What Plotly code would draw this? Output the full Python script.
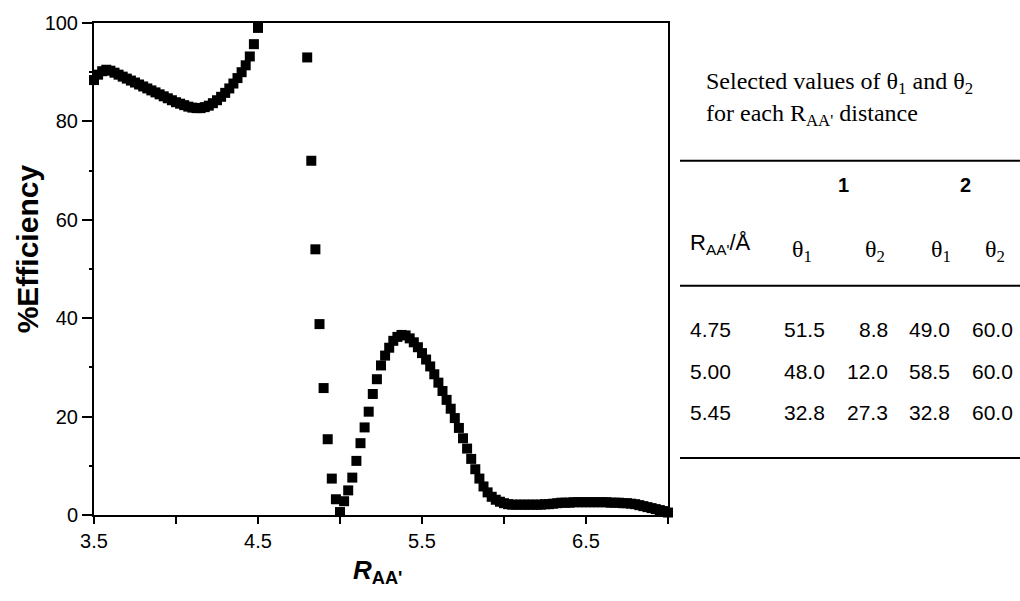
import plotly.graph_objects as go

# ---- data ----
x_left = [3.5, 3.525, 3.55, 3.575, 3.6, 3.625, 3.65, 3.675, 3.7, 3.725,
          3.75, 3.775, 3.8, 3.825, 3.85, 3.875, 3.9, 3.925, 3.95, 3.975,
          4.0, 4.025, 4.05, 4.075, 4.1, 4.125, 4.15, 4.175, 4.2, 4.225,
          4.25, 4.275, 4.3, 4.325, 4.35, 4.375, 4.4, 4.425, 4.45, 4.475, 4.5]
y_left = [88.4, 89.5, 90.2, 90.5, 90.3, 89.9, 89.5, 89.1, 88.7, 88.3,
          87.9, 87.5, 87.1, 86.7, 86.3, 85.9, 85.5, 85.1, 84.7, 84.3,
          83.9, 83.6, 83.3, 83.0, 82.8, 82.7, 82.7, 82.9, 83.2, 83.7,
          84.3, 85.0, 85.8, 86.7, 87.7, 88.8, 90.0, 91.4, 93.2, 95.7, 99.0]

x_right = [4.8, 4.825, 4.85, 4.875, 4.9, 4.925, 4.95, 4.975, 5.0,
           5.025, 5.05, 5.075, 5.1, 5.125, 5.15, 5.175, 5.2, 5.225, 5.25,
           5.275, 5.3, 5.325, 5.35, 5.375, 5.4, 5.425, 5.45, 5.475, 5.5,
           5.525, 5.55, 5.575, 5.6, 5.625, 5.65, 5.675, 5.7, 5.725, 5.75,
           5.775, 5.8, 5.825, 5.85, 5.875, 5.9, 5.925, 5.95, 5.975, 6.0,
           6.025, 6.05, 6.075, 6.1, 6.125, 6.15, 6.175, 6.2, 6.225, 6.25,
           6.275, 6.3, 6.325, 6.35, 6.375, 6.4, 6.425, 6.45, 6.475, 6.5,
           6.525, 6.55, 6.575, 6.6, 6.625, 6.65, 6.675, 6.7, 6.725, 6.75,
           6.775, 6.8, 6.825, 6.85, 6.875, 6.9, 6.925, 6.95, 6.975, 7.0]
y_right = [93.0, 72.0, 54.0, 38.8, 25.8, 15.4, 7.4, 3.2, 0.6,
           2.8, 5.0, 7.6, 11.0, 14.6, 17.8, 21.0, 24.6, 27.6, 30.4,
           32.4, 34.0, 35.4, 36.2, 36.6, 36.5, 35.9, 35.1, 34.1, 32.9,
           31.6, 30.2, 28.6, 26.9, 25.2, 23.4, 21.6, 19.7, 17.7, 15.6,
           13.5, 11.4, 9.3, 7.4, 5.8, 4.6, 3.7, 3.1, 2.7, 2.4,
           2.2, 2.1, 2.1, 2.1, 2.1, 2.1, 2.1, 2.1, 2.1, 2.2,
           2.2, 2.3, 2.4, 2.5, 2.5, 2.5, 2.6, 2.6, 2.6, 2.6,
           2.6, 2.6, 2.6, 2.6, 2.6, 2.5, 2.5, 2.5, 2.4, 2.4,
           2.3, 2.2, 2.0, 1.8, 1.6, 1.4, 1.2, 1.0, 0.8, 0.5]

x_tickvals = [3.5, 4.0, 4.5, 5.0, 5.5, 6.0, 6.5, 7.0]
x_ticktext = ["3.5", "", "4.5", "", "5.5", "", "6.5", ""]

table_title = ["Selected values of θ<sub>1</sub> and θ<sub>2</sub>",
               "for each R<sub>AA'</sub> distance"]
group_labels = ["1", "2"]
col_headers = ["R<sub>AA'</sub>/Å", "θ<sub>1</sub>", "θ<sub>2</sub>", "θ<sub>1</sub>", "θ<sub>2</sub>"]
row_r = ["4.75", "5.00", "5.45"]
row_t1_1 = ["51.5", "48.0", "32.8"]
row_t2_1 = ["8.8", "12.0", "27.3"]
row_t1_2 = ["49.0", "58.5", "32.8"]
row_t2_2 = ["60.0", "60.0", "60.0"]

# ---- figure ----
W, H = 1020, 601
L, R, T, B = 94, 352, 15, 86
PW, PH = W - L - R, H - T - B


def px(xp):
    return (xp - L) / PW


def py(yp):
    return (H - B - yp) / PH


SANS = "Liberation Sans, Arial, Helvetica, sans-serif"
SERIF = "Liberation Serif, Times New Roman, serif"

fig = go.Figure()
fig.add_trace(go.Scatter(
    x=x_left + x_right, y=y_left + y_right, mode="markers",
    marker=dict(symbol="square", size=10, color="black", line=dict(width=0)),
    cliponaxis=False, showlegend=False))

axis_common = dict(showline=True, linewidth=2, linecolor="black", mirror=True,
                   showgrid=False, zeroline=False, ticks="outside", tickwidth=2,
                   tickcolor="black", tickfont=dict(family=SANS, size=20, color="black"))
fig.update_xaxes(range=[3.5, 7.0], tickvals=x_tickvals, ticktext=x_ticktext,
                 ticklen=7, **axis_common)
fig.update_yaxes(range=[0, 100], tickvals=[0, 20, 40, 60, 80, 100], ticklen=10,
                 minor=dict(tickvals=[10, 30, 50, 70, 90], ticklen=3, tickwidth=2,
                            ticks="outside", tickcolor="black", showgrid=False),
                 **axis_common)


def note(text, xp, yp, size, family=SANS, xanchor="center", angle=0):
    return dict(text=text, x=px(xp), y=py(yp), xref="paper", yref="paper",
                xanchor=xanchor, yanchor="middle", textangle=angle, showarrow=False,
                font=dict(family=family, size=size, color="black"))


ann = []
# axis titles
ann.append(note("<b>%Efficiency</b>", 27, 245, 30, angle=-90))
ann.append(note("<b><i>R</i><sub>AA'</sub></b>", 377, 572, 26))

# table caption
ann.append(note(table_title[0], 704, 76, 24, family=SERIF, xanchor="left"))
ann.append(note(table_title[1], 704, 109, 24, family=SERIF, xanchor="left"))

# group labels
for lab, xc in zip(group_labels, [843, 965]):
    ann.append(note("<b>" + lab + "</b>", xc, 180, 20))

# column headers
ann.append(note(col_headers[0], 688, 240, 22, xanchor="left"))
for hdr, xc in zip(col_headers[1:], [802, 875, 941, 995]):
    ann.append(note(hdr, xc, 247, 24, family=SERIF))

# rows
row_y = [326, 369, 411]
for i, yc in enumerate(row_y):
    ann.append(note(row_r[i], 688, yc, 21, xanchor="left"))
    for col, xr in zip([row_t1_1, row_t2_1, row_t1_2, row_t2_2], [827, 890, 952, 1015]):
        ann.append(note(col[i], xr, yc, 21, xanchor="right"))

shapes = []
for yl in [155, 282, 457]:
    shapes.append(dict(type="line", xref="paper", yref="paper", x0=px(680), x1=px(1020),
                       y0=py(yl), y1=py(yl), line=dict(color="black", width=2)))

fig.update_layout(width=W, height=H, autosize=False,
                  margin=dict(l=L, r=R, t=T, b=B, pad=0),
                  plot_bgcolor="white", paper_bgcolor="white",
                  annotations=ann, shapes=shapes)

fig.write_html("out.html",
               config={"displayModeBar": False},
               post_script="document.body.style.margin='0';"
                           "document.body.style.padding='0';"
                           "document.documentElement.style.overflow='hidden';")
